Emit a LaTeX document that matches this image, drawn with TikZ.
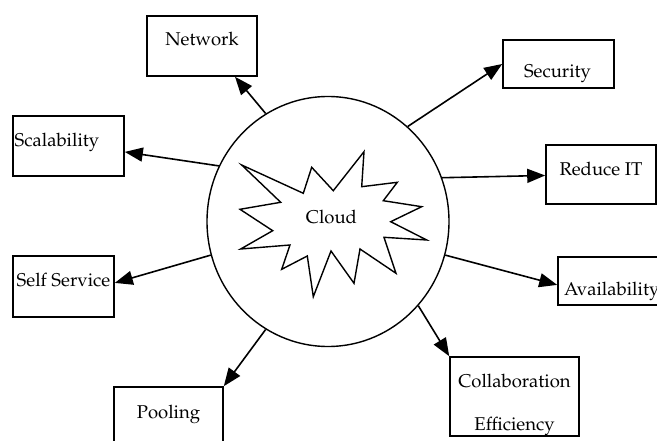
\documentclass[tikz,border=0pt]{standalone}
\usepackage[T1]{fontenc}
\usepackage{mathpazo}
\usetikzlibrary{arrows.meta,shapes.geometric}

\begin{document}
\begin{tikzpicture}[x=1pt,y=-1pt,font=\fontsize{18.5}{22}\selectfont,
    featbox/.style={draw,line width=1.6pt,inner sep=0pt},
    featlabel/.style={inner sep=0pt,anchor=base},
    feedarrow/.style={line width=1.6pt,-{Triangle[length=18pt,width=14pt]}}]
  \useasboundingbox (0,0) rectangle (657,441);

  % centre: ring and star
  \node[ellipse,draw,line width=1.4pt,inner sep=0pt,minimum width=242,minimum height=250] (ring) at (328,221.5) {};
  \draw[line width=1.4pt,line join=miter] (241.7,165) -- (303.3,193.3) -- (311.7,167.3) -- (333.3,190.7)
    -- (364,151.7) -- (361.7,186.7) -- (397.3,182.3) -- (383.3,200.7) -- (421.7,206.7)
    -- (390.7,221.7) -- (426.7,240) -- (384,237.3) -- (396,273.3) -- (360,249)
    -- (354,283.3) -- (331,251) -- (313.3,296.7) -- (307.3,256) -- (281.7,269.3)
    -- (290,245) -- (240.7,249) -- (272.7,230.7) -- (240,209.3) -- (280.7,202.3) -- cycle;
  \node[featlabel] (cloud) at (331.5,224) {Cloud};

  % boxes round the ring
  \node[featbox,minimum width=110,minimum height=60] (net) at (202,46) {};
  \node[featlabel] (netlabel) at (202,46) {Network};
  \node[featbox,minimum width=111,minimum height=60] (scale) at (68.5,146) {};
  \node[featlabel,anchor=base west] (scalelabel) at (14.5,146.5) {Scalability};
  \node[featbox,minimum width=111,minimum height=48] (secure) at (558.5,64) {};
  \node[featlabel] (securelabel) at (557.5,78) {Security};
  \node[featbox,minimum width=110,minimum height=59] (reduce) at (601,174.5) {};
  \node[featlabel] (reducelabel) at (601,175.5) {Reduce IT};
  \node[featbox,minimum width=101,minimum height=61] (selfserv) at (63.5,286.5) {};
  \node[featlabel] (selfservlabel) at (63.5,286.5) {Self Service};
  \node[featbox,minimum width=109,minimum height=60] (pool) at (168.5,417) {};
  \node[featlabel] (poollabel) at (168.5,418) {Pooling};
  \node[featbox,minimum width=110,minimum height=48] (avail) at (613,281) {};
  \node[featlabel,anchor=base west] (availlabel) at (564,295) {Availability};
  \node[featbox,minimum width=129,minimum height=79] (collab) at (514.5,396.5) {};
  \node[inner sep=0pt,align=center,font=\fontsize{18.5}{43.7}\selectfont] (collablabel) at (514.5,405) {Collaboration\\Efficiency};

  % arrows out of the ring
  \draw[feedarrow] (ring.120.4) -- (net.-43.2);
  \draw[feedarrow] (ring.153.6) -- (scale.-6.2);
  \draw[feedarrow] (ring.50) -- (secure.west);
  \draw[feedarrow] (ring.21.8) -- (reduce.181.5);
  \draw[feedarrow] (ring.196.9) -- (selfserv.4);
  \draw[feedarrow] (ring.240.6) -- (pool.north east);
  \draw[feedarrow] (ring.-16.2) -- (avail.184.2);
  \draw[feedarrow] (ring.-43.2) -- (collab.north west);
\end{tikzpicture}
\end{document}
